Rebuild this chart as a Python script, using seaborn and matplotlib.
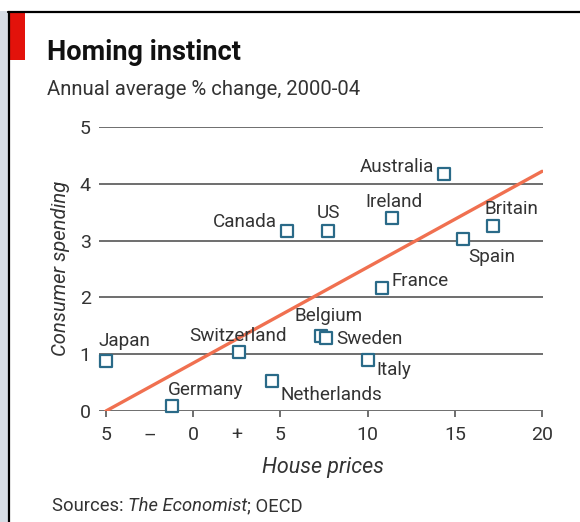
import matplotlib
matplotlib.use("Agg")
import matplotlib.pyplot as plt
from matplotlib.lines import Line2D
from matplotlib.patches import Rectangle
import seaborn as sns
import pandas as pd

# ---- data -------------------------------------------------------------
countries = ["Japan", "Germany", "Switzerland", "Netherlands", "Belgium",
             "Sweden", "Italy", "France", "Canada", "US", "Ireland",
             "Australia", "Spain", "Britain"]
house_prices = [-5.0, -1.2, 2.6, 4.5, 7.35, 7.6, 10.0, 10.8, 5.35, 7.7,
                11.4, 14.4, 15.45, 17.2]
consumer_spending = [0.88, 0.08, 1.03, 0.53, 1.32, 1.28, 0.90, 2.17, 3.17,
                     3.17, 3.40, 4.17, 3.03, 3.26]
trend_x = [-5.0, 20.0]
trend_y = [0.0, 4.22]
y_ticks = [0, 1, 2, 3, 4, 5]
x_major = [-5, 0, 5, 10, 15, 20]
x_major_labels = ["5", "0", "5", "10", "15", "20"]
x_minor = [-2.5, 2.5]
x_minor_labels = ["–", "+"]

# label placement (ha, dx px, dy px)
label_place = {
    "Japan": ("left", -7, 20), "Germany": ("left", -4, 16),
    "Switzerland": ("center", -1, 16), "Netherlands": ("left", 9, -14),
    "Belgium": ("center", 7, 20), "Sweden": ("left", 10, -1),
    "Italy": ("left", 9, -10), "France": ("left", 10, 7),
    "Spain": ("left", 6, -18), "Britain": ("left", -9, 17),
    "Ireland": ("center", 2, 16), "US": ("center", 1, 18),
    "Australia": ("right", -10, 7), "Canada": ("right", -10, 9),
}

df = pd.DataFrame({"country": countries, "house": house_prices,
                   "spend": consumer_spending})
trend = pd.DataFrame({"x": trend_x, "y": trend_y})

# ---- style ------------------------------------------------------------
sns.set_theme(style="white")
plt.rcParams["font.family"] = ["Roboto", "DejaVu Sans"]
TXT = "#333333"
GRID = "#555555"
MARK = "#2a6a88"
LINE = "#f07050"

W, H = 580, 522
fig = plt.figure(figsize=(W / 100, H / 100), dpi=100)
fig.patch.set_facecolor("white")
ax = fig.add_axes([99 / W, 1 - 411 / H, (543 - 99) / W, (411 - 127) / H])
ax.set_facecolor("white")

for yv in y_ticks:
    ax.axhline(yv, color=GRID, lw=1.2, zorder=1)

sns.lineplot(data=trend, x="x", y="y", ax=ax, color=LINE, lw=2.4,
             zorder=2, legend=False)
sns.scatterplot(data=df, x="house", y="spend", ax=ax, marker="s", s=72,
                facecolor="white", edgecolor=MARK, linewidth=1.6,
                zorder=3, clip_on=False, legend=False)

px = 72 / 100
for c, xv, yv in zip(countries, house_prices, consumer_spending):
    ha, dx, dy = label_place[c]
    ax.annotate(c, (xv, yv), xytext=(dx * px, dy * px),
                textcoords="offset points", ha=ha, va="center",
                fontsize=13.6, color=TXT, zorder=4)

ax.set_xlim(-5.4, 20.05)
ax.set_ylim(0, 5)
for s in ax.spines.values():
    s.set_visible(False)

ax.set_yticks(y_ticks)
ax.set_yticklabels([str(v) for v in y_ticks])
ax.tick_params(axis="y", length=0, pad=6, labelsize=14, labelcolor=TXT)
ax.set_xticks(x_major)
ax.set_xticklabels(x_major_labels)
ax.set_xticks(x_minor, minor=True)
ax.set_xticklabels(x_minor_labels, minor=True)
ax.tick_params(axis="x", which="major", length=4.5, width=1.2, color=GRID,
               pad=6.5, labelsize=14, labelcolor=TXT, bottom=True)
ax.tick_params(axis="x", which="minor", length=0, pad=6.5 + 4.5,
               labelsize=14, labelcolor=TXT, bottom=True)
ax.set_xlabel("")
ax.set_ylabel("")

# ---- texts --------------------------------------------------------------
fig.text(47 / W, 1 - 60 / H, "Homing instinct", fontsize=19.5,
         fontweight="bold", color="#111111", va="baseline", ha="left")
fig.text(47 / W, 1 - 95 / H, "Annual average % change, 2000-04",
         fontsize=14.6, color=TXT, va="baseline", ha="left")
fig.text(60 / W, 1 - 268 / H, "Consumer spending", rotation=90,
         fontsize=14.6, style="italic", color=TXT, ha="center", va="center")
fig.text(323 / W, 1 - 467 / H, "House prices", fontsize=15.5,
         style="italic", color=TXT, ha="center", va="center")

t1 = fig.text(52 / W, 1 - 515 / H, "Sources: ", fontsize=13.2, color=TXT,
              ha="left", va="bottom")
t2 = ax.annotate("The Economist", xy=(1, 0), xycoords=t1, fontsize=13.2,
                 style="italic", color=TXT, ha="left", va="bottom",
                 annotation_clip=False)
ax.annotate("; OECD", xy=(1, 0), xycoords=t2, fontsize=13.2, color=TXT,
            ha="left", va="bottom", annotation_clip=False)

# ---- frame decorations -------------------------------------------------
fig.add_artist(Rectangle((0, 0), 8 / W, 1 - 11 / H, transform=fig.transFigure,
                         color="#d7dde5", lw=0, zorder=0))
fig.add_artist(Line2D([8 / W, 1], [1 - 12 / H] * 2, transform=fig.transFigure,
                      color="black", lw=1.6))
fig.add_artist(Line2D([9 / W] * 2, [0, 1 - 12 / H], transform=fig.transFigure,
                      color="black", lw=1.6))
fig.add_artist(Rectangle((10 / W, 1 - 60 / H), 15 / W, 47 / H,
                         transform=fig.transFigure, color="#e3120b", lw=0))

fig.savefig("out.png", dpi=100)
